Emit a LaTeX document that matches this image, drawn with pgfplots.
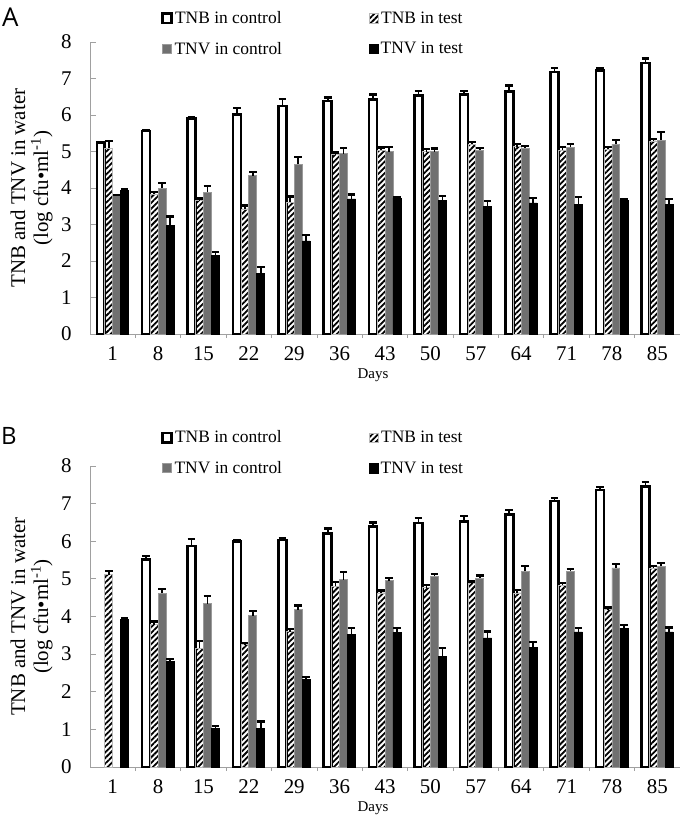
\documentclass[border=0pt]{standalone}
\usepackage{fontspec}
\setmainfont{Liberation Serif}
\newfontfamily\letterfont{Open Sans}
\usepackage{pgfplots}
\pgfplotsset{compat=1.18}
\usepackage{pgfplotstable}
\usetikzlibrary{patterns.meta}

\definecolor{tnvgray}{HTML}{707070}
\definecolor{tnvedge}{HTML}{9A9A9A}
\definecolor{axgray}{HTML}{A0A0A0}

% panel A: value and upward error for each series
\pgfplotstableread{
x  tnbc tnbce tnbt tnbte tnvc tnvce tnvt tnvte
0  5.24 0.03  5.09 0.20  3.79 0.02  3.93 0.05
1  5.56 0.03  3.84 0.06  4.00 0.14  2.97 0.25
2  5.91 0.04  3.65 0.06  3.88 0.18  2.15 0.09
3  6.02 0.18  3.43 0.09  4.34 0.09  1.65 0.19
4  6.25 0.18  3.61 0.16  4.65 0.21  2.55 0.17
5  6.38 0.10  4.91 0.06  4.94 0.15  3.70 0.12
6  6.43 0.13  5.04 0.07  5.00 0.13  3.72 0.02
7  6.54 0.11  5.00 0.06  5.00 0.08  3.65 0.13
8  6.56 0.09  5.20 0.05  5.03 0.06  3.50 0.14
9  6.65 0.16  5.13 0.07  5.09 0.05  3.59 0.14
10 7.18 0.10  5.04 0.09  5.11 0.09  3.55 0.21
11 7.22 0.06  5.06 0.07  5.20 0.12  3.67 0.02
12 7.43 0.12  5.29 0.06  5.31 0.23  3.56 0.14
}\dataA

% panel B
\pgfplotstableread{
x  tnbc tnbce tnbt tnbte tnvc tnvce tnvt tnvte
0  nan  nan   5.11 0.09  nan  nan   3.93 0.03
1  5.51 0.09  3.78 0.09  4.62 0.11  2.80 0.08
2  5.87 0.19  3.16 0.18  4.34 0.20  1.03 0.07
3  6.00 0.04  3.25 0.04  4.02 0.13  1.03 0.18
4  6.03 0.05  3.60 0.07  4.18 0.11  2.32 0.08
5  6.20 0.14  4.80 0.11  4.98 0.20  3.53 0.16
6  6.40 0.10  4.63 0.06  4.95 0.08  3.58 0.11
7  6.49 0.13  4.77 0.07  5.07 0.06  2.94 0.22
8  6.52 0.15  4.87 0.06  5.02 0.07  3.43 0.17
9  6.71 0.12  4.63 0.07  5.20 0.15  3.18 0.15
10 7.07 0.09  4.83 0.06  5.20 0.07  3.59 0.10
11 7.36 0.09  4.18 0.06  5.29 0.11  3.69 0.09
12 7.46 0.11  5.29 0.06  5.33 0.09  3.59 0.12
}\dataB

\pgfplotsset{
  panel/.style={
    scale only axis, width=590bp,
    xmin=-0.5, xmax=12.5, ymin=0, ymax=8,
    ytick={0,...,8},
    xtick={0,...,12},
    xticklabels={1,8,15,22,29,36,43,50,57,64,71,78,85},
    major x tick style={draw=none},
    minor xtick={0.5,1.5,...,11.5},
    minor x tick style={draw=axgray, line width=0.8bp},
    minor tick length=4bp,
    ytick style={draw=axgray, line width=0.8bp},
    major tick length=6bp,
    axis x line*=bottom, axis y line*=left,
    axis line style={draw=axgray, line width=1bp, -},
    tick label style={font=\fontsize{21}{23}\selectfont},
    /pgf/number format/assume math mode=true,
    yticklabel style={xshift=-15bp},
    xticklabel style={yshift=-3bp},
    xlabel={Days},
    xlabel style={font=\fontsize{15}{17}\selectfont, yshift=-1bp, xshift=-12bp},
    ylabel={TNB and TNV in water\\(log cfu•ml\textsuperscript{-1})},
    ylabel style={align=center, font=\fontsize{21}{23}\selectfont,
      at={(axis description cs:-0.099,0.5)}, anchor=center},
    ybar, bar width=0.175,
    legend columns=2,
    legend style={draw=none, fill=none, anchor=north west, inner sep=0pt,
      font=\fontsize{17.5}{19}\selectfont, row sep=13bp,
      /tikz/every even column/.append style={column sep=85bp}},
    legend image code/.code={\draw[##1] (0bp,-4.6bp) rectangle (9bp,4.6bp);},
  },
  ctrlB/.style={fill=white, draw=black, line width=2.6bp, bar shift=-0.2625},
  testB/.style={pattern={Lines[angle=45,distance=4bp,line width=1.8bp]},
    pattern color=black, draw=gray!55, line width=0.6bp, bar shift=-0.0875},
  ctrlV/.style={fill=tnvgray, draw=tnvedge, line width=0.8bp, bar shift=0.0875},
  testV/.style={fill=black, draw=black, line width=0.6bp, bar shift=0.2625},
  errs/.style={error bars/.cd, y dir=plus, y explicit,
    error bar style={line width=1.6bp, draw=black, solid},
    error mark options={rotate=90, mark size=3.8bp, line width=2.2bp, draw=black}},
}

\begin{document}
\begin{tikzpicture}
\path[use as bounding box] (0,0) rectangle (680bp,-818bp);

\node[anchor=north west, inner sep=0pt, font=\letterfont\fontsize{26}{26}\selectfont] at (2bp,-8bp) {A};
\begin{axis}[panel, height=292bp, at={(90bp,-334bp)}, anchor=south west,
  legend style={at={(axis description cs:0.12,1.112)}}]
\addplot[ctrlB, errs] table[x=x, y=tnbc, y error=tnbce] {\dataA};
\addplot[testB, errs] table[x=x, y=tnbt, y error=tnbte] {\dataA};
\addplot[ctrlV, errs] table[x=x, y=tnvc, y error=tnvce] {\dataA};
\addplot[testV, errs] table[x=x, y=tnvt, y error=tnvte] {\dataA};
\legend{TNB in control, TNB in test, TNV in control, TNV in test}
\end{axis}

\node[anchor=north west, inner sep=0pt, font=\letterfont\fontsize{24}{24}\selectfont] at (1bp,-427bp) {B};
\begin{axis}[panel, height=301bp, at={(90bp,-767bp)}, anchor=south west,
  legend style={at={(axis description cs:0.12,1.124)}}]
\addplot[ctrlB, errs] table[x=x, y=tnbc, y error=tnbce] {\dataB};
\addplot[testB, errs] table[x=x, y=tnbt, y error=tnbte] {\dataB};
\addplot[ctrlV, errs] table[x=x, y=tnvc, y error=tnvce] {\dataB};
\addplot[testV, errs] table[x=x, y=tnvt, y error=tnvte] {\dataB};
\legend{TNB in control, TNB in test, TNV in control, TNV in test}
\end{axis}
\end{tikzpicture}
\end{document}
